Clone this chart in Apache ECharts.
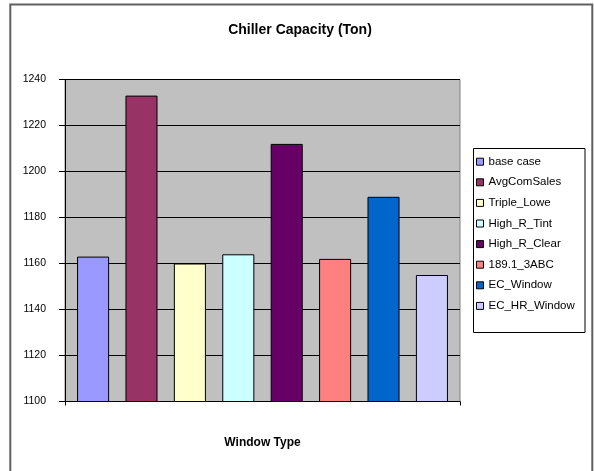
<!DOCTYPE html>
<html>
<head>
<meta charset="utf-8">
<script src="https://cdn.jsdelivr.net/npm/echarts@6/dist/echarts.min.js"></script>
<style>
html,body{margin:0;padding:0;background:#fff;}
#chart{width:594px;height:471px;}
</style>
</head>
<body>
<div id="chart"></div>
<script>
var seriesNames = ['base case', 'AvgComSales', 'Triple_Lowe', 'High_R_Tint', 'High_R_Clear', '189.1_3ABC', 'EC_Window', 'EC_HR_Window'];
var seriesValues = [1163, 1233, 1160, 1164, 1212, 1162, 1189, 1155];
var seriesColors = ['#9999FF', '#993366', '#FFFFCC', '#CCFFFF', '#660066', '#FF8080', '#0066CC', '#CCCCFF'];
var categories = [''];
var yTicks = {min: 1100, max: 1240, interval: 20};

var FONT = 'Arial, "Liberation Sans", sans-serif';
var chart = echarts.init(document.getElementById('chart'), null, {renderer: 'canvas'});

var series = seriesNames.map(function (name, i) {
  return {
    name: name,
    type: 'bar',
    data: [seriesValues[i]],
    barGap: '51%',
    barCategoryGap: '6.1%',
    itemStyle: {color: seriesColors[i], borderColor: '#000', borderWidth: 1},
    emphasis: {disabled: true},
    animation: false
  };
});

chart.setOption({
  animation: false,
  backgroundColor: '#ffffff',
  title: {
    text: 'Chiller Capacity (Ton)',
    left: 300,
    top: 23,
    textAlign: 'center',
    padding: 0,
    textStyle: {fontFamily: FONT, fontSize: 14, fontWeight: 'bold', color: '#000'}
  },
  graphic: [
    {type: 'rect', shape: {x: 10.3, y: 4.5, width: 582, height: 520},
     style: {fill: null, stroke: '#606060', lineWidth: 2}, silent: true, z: 100},
    {type: 'rect', shape: {x: 473.5, y: 148.5, width: 111.5, height: 184},
     style: {fill: null, stroke: '#000', lineWidth: 1}, silent: true, z: 100}
  ],
  legend: {
    orient: 'vertical',
    left: 476,
    top: 155.7,
    padding: 0,
    itemGap: 8.6,
    itemWidth: 7,
    itemHeight: 7,
    icon: 'rect',
    itemStyle: {borderColor: '#000', borderWidth: 1},
    textStyle: {fontFamily: FONT, fontSize: 11.5, color: '#000', lineHeight: 12},
    data: seriesNames
  },
  grid: {
    left: 65, top: 79.5, width: 395, height: 322,
    show: true, backgroundColor: '#C0C0C0', borderColor: '#808080', borderWidth: 1
  },
  xAxis: {
    type: 'category',
    data: categories,
    boundaryGap: true,
    name: 'Window Type',
    nameLocation: 'middle',
    nameGap: 35,
    nameTextStyle: {fontFamily: FONT, fontSize: 12, fontWeight: 'bold', color: '#000'},
    axisLine: {lineStyle: {color: '#000', width: 1}},
    axisTick: {show: true, length: 4, lineStyle: {color: '#000'}},
    axisLabel: {show: false},
    splitLine: {show: false}
  },
  yAxis: {
    type: 'value',
    min: yTicks.min,
    max: yTicks.max,
    interval: yTicks.interval,
    axisLine: {show: true, lineStyle: {color: '#000', width: 1}},
    axisTick: {show: true, length: 6, lineStyle: {color: '#000'}},
    axisLabel: {fontFamily: FONT, fontSize: 10.5, color: '#000', margin: 19,
                formatter: function (v) { return String(v); }},
    splitLine: {show: true, lineStyle: {color: '#000', width: 1}}
  },
  series: series
});
</script>
</body>
</html>
